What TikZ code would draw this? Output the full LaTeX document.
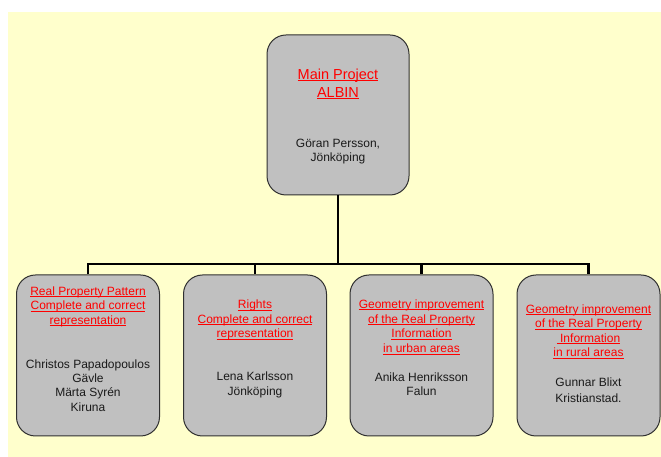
\documentclass[tikz,border=0pt]{standalone}
\usepackage{fontspec}
\setmainfont{Liberation Sans}
\definecolor{bgyellow}{HTML}{FFFFCC}
\definecolor{boxgray}{HTML}{C0C0C0}
\definecolor{boxline}{HTML}{303030}
\definecolor{ttlred}{HTML}{FF0000}
\definecolor{nametext}{HTML}{1A1A1A}
\newcommand{\ulr}[1]{\setbox0=\hbox{#1}\leavevmode\rlap{\rule[-1.9pt]{\wd0}{0.75pt}}\box0}
\tikzset{
  orgbox/.style={draw=boxline, line width=1pt, fill=boxgray, rounded corners=19pt,
    minimum width=143pt, minimum height=161pt, inner sep=0pt},
  ttl/.style={text=ttlred, align=center, inner sep=0pt, font=\fontsize{12}{14.5}\selectfont},
  nm/.style={text=nametext, align=center, inner sep=0pt, font=\fontsize{12}{14.3}\selectfont},
  conn/.style={draw=black, line width=2.8pt}
}
\begin{document}
\begin{tikzpicture}[x=1pt,y=1pt]
\useasboundingbox (0,0) rectangle (661,457);
\fill[bgyellow] (8,0) rectangle (661,445);
% boxes
\node[orgbox, minimum width=142pt, minimum height=160pt] (main) at (338,342) {};
\node[orgbox] (c1) at (88,101.5) {};
\node[orgbox] (c2) at (255,101.5) {};
\node[orgbox] (c3) at (421.5,101.5) {};
\node[orgbox] (c4) at (588.5,101.5) {};
% connectors
\coordinate (bar) at (338,193);
\draw[conn] (main.south) -- (bar);
\draw[conn] (c1.north) |- (bar) -| (c4.north);
\draw[conn] (c2.north |- bar) -- (c2.north);
\draw[conn] (c3.north |- bar) -- (c3.north);
% main texts
\node[ttl, font=\fontsize{14.5}{18}\selectfont] (mainT) at (338,373) {\ulr{Main Project}\\\ulr{ALBIN}};
\node[nm, font=\fontsize{12}{13.5}\selectfont] (mainN) at (338,305.5) {Göran Persson,\\Jönköping};
% child 1
\node[ttl] (t1) at (88,150.5) {\ulr{Real Property Pattern}\\\ulr{Complete and correct}\\\ulr{representation}};
\node[nm] (n1) at (88,71.5) {Christos Papadopoulos\\Gävle\\Märta Syrén\\Kiruna};
% child 2
\node[ttl] (t2) at (255,137) {\ulr{Rights}\\\ulr{Complete and correct}\\\ulr{representation}};
\node[nm] (n2) at (255,72) {Lena Karlsson\\Jönköping};
% child 3
\node[ttl, font=\fontsize{12}{14.7}\selectfont] (t3) at (421.5,130) {\ulr{Geometry improvement}\\\ulr{of the Real Property}\\\ulr{Information}\\\ulr{in urban areas}};
\node[nm] (n3) at (421.5,72.5) {Anika Henriksson\\Falun};
% child 4
\node[ttl] (t4) at (588.5,125.5) {\ulr{Geometry improvement}\\\ulr{of the Real Property}\\\ulr{\ Information}\\\ulr{in rural areas}};
\node[nm, font=\fontsize{12}{16}\selectfont] (n4) at (588.5,67) {Gunnar Blixt\\Kristianstad.};
\end{tikzpicture}
\end{document}
